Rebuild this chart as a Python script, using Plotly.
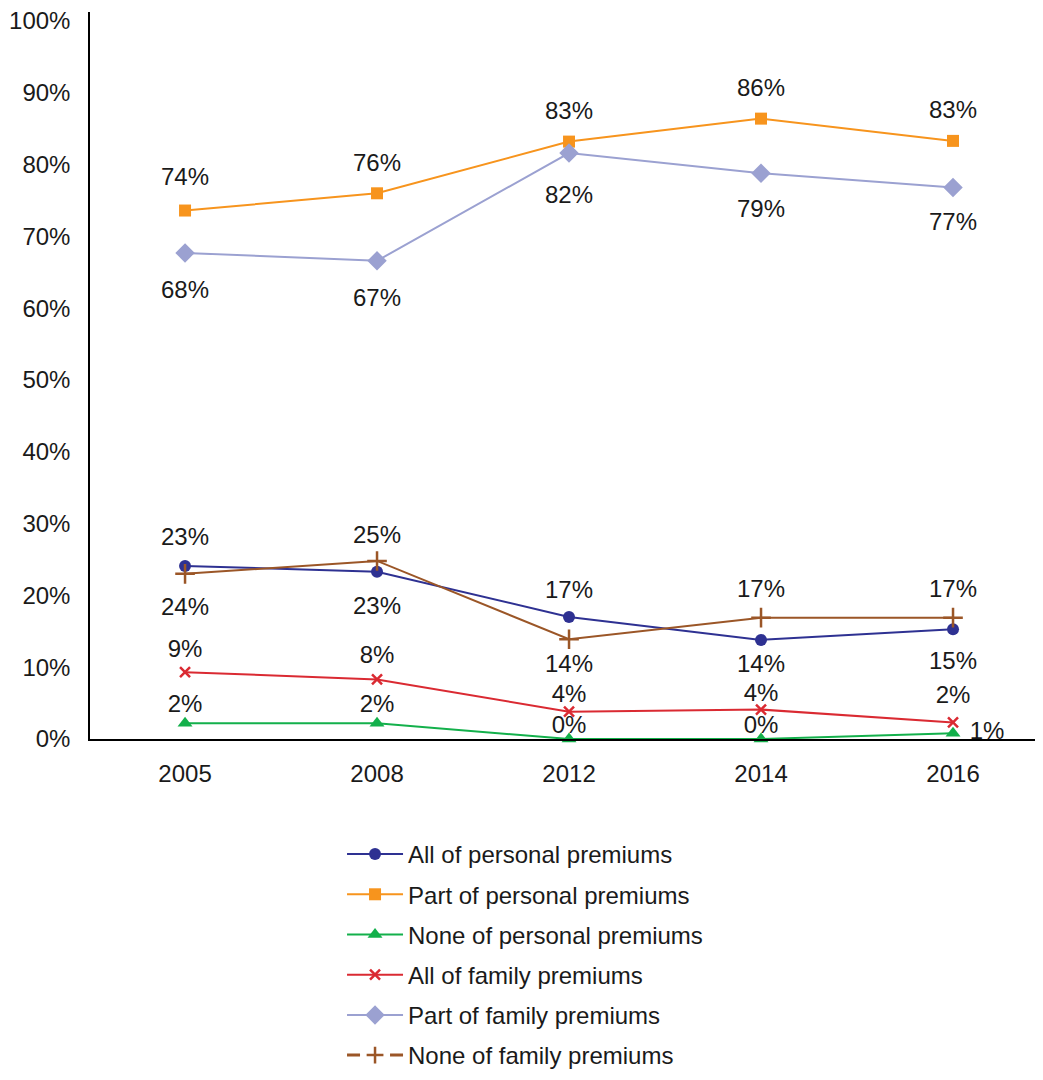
import plotly.graph_objects as go

years = ["2005", "2008", "2012", "2014", "2016"]

all_personal = [24.1, 23.3, 17.0, 13.8, 15.3]
part_personal = [73.6, 76.0, 83.2, 86.4, 83.3]
none_personal = [2.2, 2.2, 0.0, 0.0, 0.8]
all_family = [9.3, 8.3, 3.8, 4.1, 2.3]
part_family = [67.7, 66.6, 81.6, 78.8, 76.8]
none_family = [23.0, 24.8, 13.9, 16.9, 16.9]

y_ticks = [0, 10, 20, 30, 40, 50, 60, 70, 80, 90, 100]

FONT = "Liberation Sans, Arial, Helvetica, sans-serif"
FS = 24
TXT = "#1a1a1a"

# label placement style: (textposition, pixel gap between point and label centre)
T, B, R = "top center", "bottom center", "middle right"
series = [
    ("All of personal premiums", all_personal, "#2E3192", "circle", 12,
     [(B, 40), (B, 34), (T, 28), (B, 23), (B, 31)]),
    ("Part of personal premiums", part_personal, "#F7941D", "square", 12,
     [(T, 34), (T, 31), (T, 31), (T, 31), (T, 32)]),
    ("None of personal premiums", none_personal, "#13B04B", "triangle-up", 13,
     [(T, 20), (T, 20), (T, 13), (T, 13), (R, 34)]),
    ("All of family premiums", all_family, "#DA2A32", "x-thin", 10,
     [(T, 24), (T, 25), (T, 18), (T, 17), (T, 28)]),
    ("Part of family premiums", part_family, "#9BA1D1", "diamond", 15,
     [(B, 36), (B, 37), (B, 41), (B, 35), (B, 34)]),
    ("None of family premiums", none_family, "#9B5627", "cross-thin", 14,
     [(T, 37), (T, 27), (B, 24), (T, 29), (T, 29)]),
]


def gap_to_marker_size(pos, gap, text):
    # plotly offsets point text by r = size/2/0.8 + 1 from the point
    if pos == T:
        r = gap - 0.61 * FS
    elif pos == B:
        r = gap - 0.39 * FS
    else:
        r = gap - 0.5 * (0.556 * (len(text) - 1) + 0.889) * FS
    return max(0.0, 1.6 * (r - 1))


fig = go.Figure()
for name, vals, color, sym, size, labels in series:
    thin = sym.endswith("-thin")
    marker = dict(symbol=sym, size=size, color=color)
    if thin:
        marker["line"] = dict(color=color, width=2.5)
    is_dashed_legend = name == "None of family premiums"
    fig.add_trace(go.Scatter(
        x=years, y=vals, mode="lines+markers", name=name,
        line=dict(color=color, width=2), marker=marker,
        cliponaxis=False, showlegend=not is_dashed_legend,
        legendgroup=name,
    ))
    if is_dashed_legend:
        lm = dict(marker)
        lm["size"] = 12
        fig.add_trace(go.Scatter(
            x=[None], y=[None], mode="lines+markers", name=name,
            line=dict(color=color, width=3, dash="13px,30px,13px"), marker=lm,
            legendgroup=name,
        ))
    texts = [f"{round(v)}%" for v in vals]
    fig.add_trace(go.Scatter(
        x=years, y=vals, mode="markers+text", text=texts,
        textposition=[p for p, g in labels],
        textfont=dict(family=FONT, size=FS, color=TXT),
        marker=dict(size=[gap_to_marker_size(p, g, t) for (p, g), t in zip(labels, texts)],
                    opacity=0, color=color),
        cliponaxis=False, showlegend=False, hoverinfo="skip",
    ))

fig.update_layout(
    width=1027, height=1064,
    paper_bgcolor="white", plot_bgcolor="white",
    margin=dict(l=82, r=0, t=4, b=333, autoexpand=False),
    font=dict(family=FONT, size=FS, color=TXT),
    xaxis=dict(
        type="category", range=[-0.495, 4.427],
        showline=True, linecolor="#000000", linewidth=1.5,
        showgrid=False, zeroline=False, ticks="",
        ticklabelstandoff=12,
        tickfont=dict(family=FONT, size=FS, color=TXT),
    ),
    yaxis=dict(
        range=[0, 101.25], tickvals=y_ticks,
        ticktext=[f"{t}%" for t in y_ticks],
        showline=True, linecolor="#000000", linewidth=1.5,
        showgrid=False, zeroline=False, ticks="",
        ticklabelstandoff=13, ticklabeloverflow="allow",
        tickfont=dict(family=FONT, size=FS, color=TXT),
    ),
    legend=dict(
        x=0.2667, xanchor="left", y=-0.1279, yanchor="top",
        orientation="v", itemwidth=56, tracegroupgap=6,
        font=dict(family=FONT, size=FS, color=TXT),
        bgcolor="rgba(0,0,0,0)",
    ),
)

fig.write_html("out.html")
